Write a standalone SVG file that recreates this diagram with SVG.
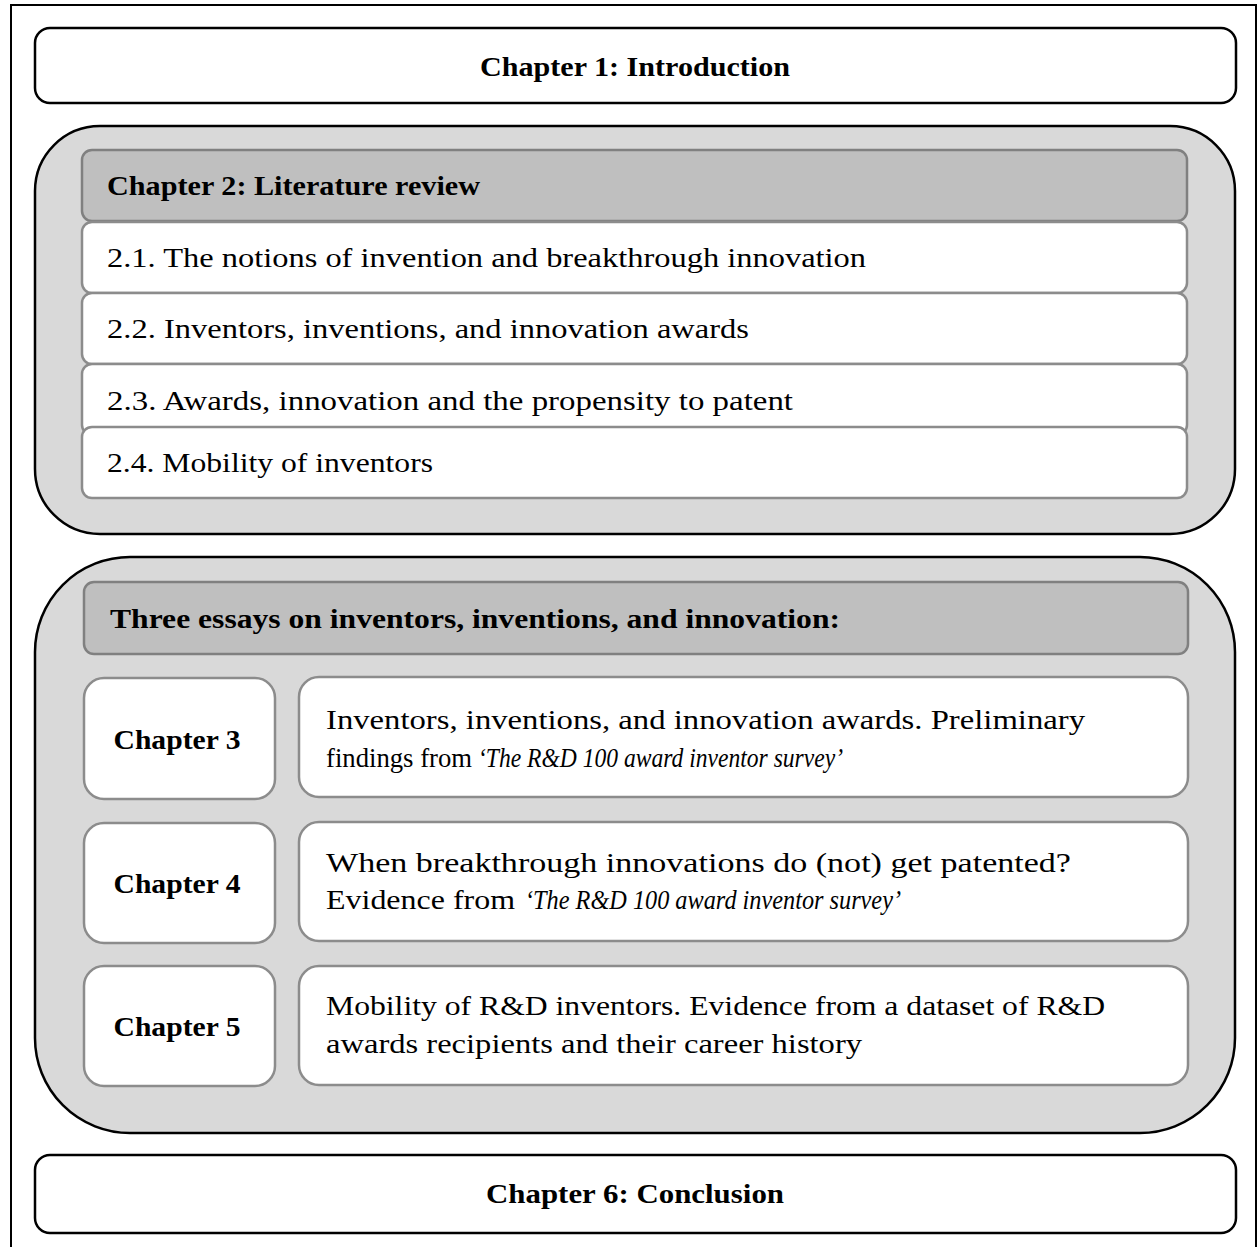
<svg xmlns="http://www.w3.org/2000/svg" width="1258" height="1247" viewBox="0 0 1258 1247">
<style>
.frame{fill:#fff;stroke:#000;stroke-width:2}
.chap{fill:#fff;stroke:#000;stroke-width:2.5}
.group{fill:#d9d9d9;stroke:#000;stroke-width:2.5}
.head{fill:#bfbfbf;stroke:#808080;stroke-width:2.5}
.item{fill:#fff;stroke:#8c8c8c;stroke-width:2.5}
text{font-family:"Liberation Serif","DejaVu Serif",serif;font-size:28px;fill:#000}
.b{font-weight:bold}
.i{font-style:italic}
</style>
<rect class="frame" x="11" y="5" width="1245" height="1260"/>
<g id="ch1">
<rect class="chap" x="35" y="28" width="1201" height="75" rx="15"/>
<text class="b" x="635" y="76" text-anchor="middle" textLength="310" lengthAdjust="spacingAndGlyphs">Chapter 1: Introduction</text>
</g>
<g id="ch2">
<rect class="group" x="35" y="126" width="1200" height="408" rx="65"/>
<g id="ch2-head">
<rect class="head" x="82" y="150" width="1105" height="71" rx="10"/>
<text class="b" x="107" y="195" textLength="373" lengthAdjust="spacingAndGlyphs">Chapter 2: Literature review</text>
</g>
<g id="ch2-1">
<rect class="item" x="82" y="222" width="1105" height="71" rx="10"/>
<text x="107" y="267" textLength="759" lengthAdjust="spacingAndGlyphs">2.1. The notions of invention and breakthrough innovation</text>
</g>
<g id="ch2-2">
<rect class="item" x="82" y="293" width="1105" height="71" rx="10"/>
<text x="107" y="338" textLength="642" lengthAdjust="spacingAndGlyphs">2.2. Inventors, inventions, and innovation awards</text>
</g>
<g id="ch2-3">
<rect class="item" x="82" y="364" width="1105" height="71" rx="10"/>
<text x="107" y="410" textLength="686" lengthAdjust="spacingAndGlyphs">2.3. Awards, innovation and the propensity to patent</text>
</g>
<g id="ch2-4">
<rect class="item" x="82" y="427" width="1105" height="71" rx="10"/>
<text x="107" y="472" textLength="326" lengthAdjust="spacingAndGlyphs">2.4. Mobility of inventors</text>
</g>
</g>
<g id="essays">
<rect class="group" x="35" y="557" width="1200" height="576" rx="95"/>
<g id="essays-head">
<rect class="head" x="84" y="582" width="1104" height="72" rx="10"/>
<text class="b" x="110" y="628" textLength="730" lengthAdjust="spacingAndGlyphs">Three essays on inventors, inventions, and innovation:</text>
</g>
<g id="ch3">
<rect class="item" x="84" y="678" width="191" height="121" rx="20"/>
<text class="b" x="177" y="749" text-anchor="middle" textLength="127" lengthAdjust="spacingAndGlyphs">Chapter 3</text>
</g>
<g id="ch3-desc">
<rect class="item" x="299" y="677" width="889" height="120" rx="20"/>
<text x="326" y="729" textLength="759" lengthAdjust="spacingAndGlyphs">Inventors, inventions, and innovation awards. Preliminary</text>
<text x="326" y="767" textLength="146" lengthAdjust="spacingAndGlyphs">findings from</text>
<text class="i" x="478" y="767" textLength="365" lengthAdjust="spacingAndGlyphs">‘The R&amp;D 100 award inventor survey’</text>
</g>
<g id="ch4">
<rect class="item" x="84" y="823" width="191" height="120" rx="20"/>
<text class="b" x="177" y="893" text-anchor="middle" textLength="127" lengthAdjust="spacingAndGlyphs">Chapter 4</text>
</g>
<g id="ch4-desc">
<rect class="item" x="299" y="822" width="889" height="119" rx="20"/>
<text x="326" y="872" textLength="745" lengthAdjust="spacingAndGlyphs">When breakthrough innovations do (not) get patented?</text>
<text x="326" y="909" textLength="189" lengthAdjust="spacingAndGlyphs">Evidence from</text>
<text class="i" x="525" y="909" textLength="376" lengthAdjust="spacingAndGlyphs">‘The R&amp;D 100 award inventor survey’</text>
</g>
<g id="ch5">
<rect class="item" x="84" y="966" width="191" height="120" rx="20"/>
<text class="b" x="177" y="1036" text-anchor="middle" textLength="127" lengthAdjust="spacingAndGlyphs">Chapter 5</text>
</g>
<g id="ch5-desc">
<rect class="item" x="299" y="966" width="889" height="119" rx="20"/>
<text x="326" y="1015" textLength="779" lengthAdjust="spacingAndGlyphs">Mobility of R&amp;D inventors. Evidence from a dataset of R&amp;D</text>
<text x="326" y="1053" textLength="536" lengthAdjust="spacingAndGlyphs">awards recipients and their career history</text>
</g>
</g>
<g id="ch6">
<rect class="chap" x="35" y="1155" width="1201" height="78" rx="15"/>
<text class="b" x="635" y="1203" text-anchor="middle" textLength="298" lengthAdjust="spacingAndGlyphs">Chapter 6: Conclusion</text>
</g>
<g id="connectors"/>
</svg>
